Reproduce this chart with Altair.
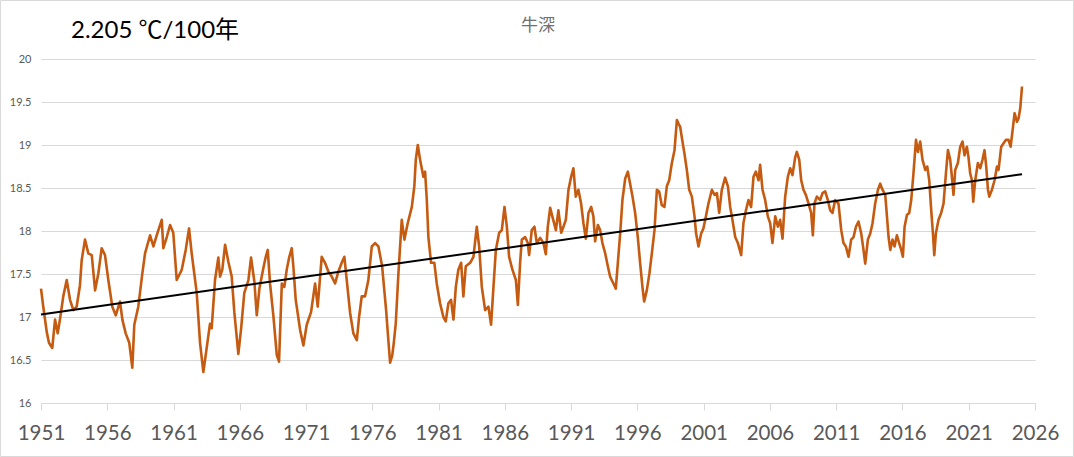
import altair as alt
import pandas as pd

years = [
    1951.00, 1951.17, 1951.43, 1951.60, 1951.85, 1952.06, 1952.26, 1952.43, 1952.68, 1952.94,
    1953.19, 1953.44, 1953.69, 1953.94, 1954.07, 1954.32, 1954.57, 1954.83, 1955.08, 1955.32,
    1955.58, 1955.83, 1956.08, 1956.38, 1956.64, 1956.96, 1957.14, 1957.39, 1957.66, 1957.89,
    1958.04, 1958.34, 1958.65, 1958.85, 1959.23, 1959.48, 1959.73, 1960.11, 1960.23, 1960.49,
    1960.74, 1960.98, 1961.24, 1961.62, 1961.92, 1962.17, 1962.37, 1962.75, 1963.00, 1963.25,
    1963.51, 1963.75, 1963.88, 1964.13, 1964.38, 1964.51, 1964.68, 1964.89, 1965.14, 1965.39,
    1965.59, 1965.89, 1966.09, 1966.34, 1966.65, 1966.85, 1967.10, 1967.28, 1967.48, 1967.78,
    1967.96, 1968.11, 1968.28, 1968.53, 1968.79, 1968.96, 1969.17, 1969.36, 1969.54, 1969.72,
    1969.92, 1970.04, 1970.22, 1970.55, 1970.80, 1971.05, 1971.38, 1971.68, 1971.88, 1972.18,
    1972.43, 1972.68, 1972.94, 1973.19, 1973.44, 1973.69, 1973.89, 1974.07, 1974.32, 1974.57,
    1974.83, 1975.00, 1975.20, 1975.45, 1975.70, 1975.96, 1976.21, 1976.46, 1976.74, 1977.04,
    1977.20, 1977.34, 1977.50, 1977.62, 1977.77, 1977.97, 1978.22, 1978.42, 1978.67, 1978.98,
    1979.17, 1979.28, 1979.43, 1979.60, 1979.85, 1979.98, 1980.11, 1980.23, 1980.43, 1980.68,
    1980.86, 1981.11, 1981.36, 1981.54, 1981.74, 1981.94, 1982.12, 1982.30, 1982.49, 1982.70,
    1982.87, 1983.05, 1983.38, 1983.63, 1983.88, 1984.06, 1984.26, 1984.51, 1984.76, 1984.96,
    1985.14, 1985.32, 1985.57, 1985.77, 1985.97, 1986.15, 1986.32, 1986.57, 1986.83, 1986.98,
    1987.15, 1987.28, 1987.53, 1987.73, 1987.83, 1988.03, 1988.23, 1988.41, 1988.66, 1988.91,
    1989.09, 1989.24, 1989.42, 1989.58, 1989.85, 1990.04, 1990.25, 1990.42, 1990.60, 1990.80,
    1991.00, 1991.17, 1991.35, 1991.55, 1991.75, 1991.93, 1992.11, 1992.31, 1992.51, 1992.68,
    1992.81, 1993.02, 1993.19, 1993.36, 1993.57, 1993.77, 1993.94, 1994.19, 1994.37, 1994.52,
    1994.70, 1994.87, 1995.08, 1995.28, 1995.45, 1995.63, 1995.83, 1996.03, 1996.21, 1996.38,
    1996.51, 1996.71, 1996.91, 1997.09, 1997.29, 1997.47, 1997.64, 1997.84, 1998.04, 1998.22,
    1998.40, 1998.60, 1998.80, 1998.98, 1999.10, 1999.23, 1999.36, 1999.55, 1999.73, 1999.91,
    2000.11, 2000.31, 2000.43, 2000.61, 2000.81, 2000.98, 2001.17, 2001.36, 2001.62, 2001.82,
    2002.00, 2002.17, 2002.37, 2002.62, 2002.83, 2003.00, 2003.17, 2003.38, 2003.58, 2003.83,
    2004.00, 2004.19, 2004.38, 2004.58, 2004.76, 2004.94, 2005.14, 2005.26, 2005.44, 2005.64,
    2005.84, 2006.02, 2006.19, 2006.40, 2006.60, 2006.77, 2006.95, 2007.15, 2007.35, 2007.53,
    2007.70, 2007.91, 2008.03, 2008.21, 2008.36, 2008.53, 2008.71, 2008.91, 2009.11, 2009.24,
    2009.36, 2009.54, 2009.79, 2009.97, 2010.17, 2010.37, 2010.55, 2010.72, 2010.92, 2011.17,
    2011.38, 2011.55, 2011.73, 2011.93, 2012.13, 2012.31, 2012.49, 2012.68, 2012.89, 2013.06,
    2013.19, 2013.39, 2013.57, 2013.74, 2013.94, 2014.15, 2014.32, 2014.49, 2014.70, 2014.83,
    2014.95, 2015.08, 2015.25, 2015.40, 2015.58, 2015.75, 2015.91, 2016.03, 2016.16, 2016.34,
    2016.51, 2016.66, 2016.83, 2017.02, 2017.17, 2017.34, 2017.51, 2017.72, 2017.87, 2018.02,
    2018.17, 2018.30, 2018.40, 2018.52, 2018.72, 2018.92, 2019.10, 2019.28, 2019.43, 2019.60,
    2019.73, 2019.85, 2019.98, 2020.18, 2020.36, 2020.53, 2020.68, 2020.86, 2020.98, 2021.11,
    2021.24, 2021.34, 2021.49, 2021.69, 2021.87, 2022.04, 2022.19, 2022.32, 2022.45, 2022.55,
    2022.75, 2022.95, 2023.13, 2023.25, 2023.45, 2023.63, 2023.81, 2024.00, 2024.16, 2024.31,
    2024.46, 2024.64, 2024.76, 2024.89, 2025.02,
]

temps = [
    17.33, 17.12, 16.83, 16.70, 16.64, 16.97, 16.81, 16.97, 17.24, 17.43,
    17.20, 17.08, 17.12, 17.37, 17.66, 17.90, 17.74, 17.72, 17.31, 17.50,
    17.80, 17.72, 17.43, 17.12, 17.02, 17.18, 16.97, 16.81, 16.70, 16.41,
    16.91, 17.12, 17.51, 17.74, 17.95, 17.82, 17.95, 18.13, 17.80, 17.93,
    18.07, 17.98, 17.43, 17.55, 17.78, 18.03, 17.74, 17.28, 16.70, 16.36,
    16.65, 16.92, 16.87, 17.43, 17.69, 17.47, 17.55, 17.84, 17.64, 17.47,
    17.05, 16.57, 16.85, 17.28, 17.43, 17.69, 17.41, 17.02, 17.33, 17.57,
    17.70, 17.78, 17.39, 17.02, 16.56, 16.48, 17.39, 17.35, 17.55, 17.69,
    17.80, 17.59, 17.20, 16.85, 16.67, 16.91, 17.06, 17.39, 17.12, 17.70,
    17.63, 17.53, 17.47, 17.39, 17.53, 17.63, 17.70, 17.43, 17.05, 16.81,
    16.73, 17.00, 17.24, 17.24, 17.43, 17.82, 17.86, 17.82, 17.59, 17.08,
    16.75, 16.47, 16.55, 16.70, 16.93, 17.51, 18.13, 17.90, 18.09, 18.28,
    18.52, 18.83, 19.00, 18.83, 18.63, 18.69, 18.36, 17.93, 17.63, 17.63,
    17.39, 17.16, 17.00, 16.95, 17.16, 17.20, 16.97, 17.35, 17.55, 17.63,
    17.24, 17.59, 17.63, 17.70, 18.05, 17.82, 17.35, 17.08, 17.12, 16.91,
    17.35, 17.78, 17.98, 18.01, 18.28, 18.05, 17.70, 17.55, 17.43, 17.14,
    17.63, 17.90, 17.93, 17.86, 17.72, 18.01, 18.05, 17.86, 17.92, 17.86,
    17.73, 18.05, 18.27, 18.17, 18.01, 18.24, 17.98, 18.05, 18.13, 18.48,
    18.63, 18.73, 18.40, 18.48, 18.32, 18.09, 17.91, 18.21, 18.28, 18.17,
    17.88, 18.07, 18.01, 17.86, 17.74, 17.59, 17.47, 17.39, 17.33, 17.62,
    17.97, 18.36, 18.61, 18.69, 18.55, 18.40, 18.21, 17.93, 17.62, 17.35,
    17.18, 17.31, 17.51, 17.74, 18.01, 18.48, 18.46, 18.30, 18.28, 18.52,
    18.59, 18.79, 18.94, 19.29, 19.25, 19.21, 19.08, 18.90, 18.71, 18.48,
    18.40, 18.17, 17.97, 17.82, 17.97, 18.03, 18.17, 18.32, 18.48, 18.42,
    18.44, 18.21, 18.48, 18.62, 18.52, 18.28, 18.13, 17.93, 17.86, 17.72,
    18.09, 18.24, 18.36, 18.28, 18.63, 18.69, 18.59, 18.77, 18.48, 18.36,
    18.17, 18.09, 17.86, 18.17, 18.05, 18.13, 17.91, 18.40, 18.63, 18.73,
    18.65, 18.86, 18.92, 18.83, 18.59, 18.48, 18.42, 18.32, 18.21, 17.95,
    18.32, 18.40, 18.36, 18.44, 18.46, 18.36, 18.24, 18.21, 18.36, 18.32,
    18.01, 17.86, 17.82, 17.70, 17.90, 17.93, 18.05, 18.11, 17.97, 17.78,
    17.62, 17.90, 17.97, 18.09, 18.32, 18.48, 18.55, 18.48, 18.42, 18.17,
    17.93, 17.78, 17.90, 17.82, 17.95, 17.86, 17.78, 17.70, 18.05, 18.19,
    18.21, 18.36, 18.67, 19.06, 18.92, 19.04, 18.83, 18.71, 18.75, 18.59,
    18.24, 17.97, 17.72, 17.97, 18.13, 18.21, 18.32, 18.67, 18.94, 18.83,
    18.63, 18.42, 18.71, 18.79, 18.98, 19.04, 18.88, 18.98, 18.86, 18.67,
    18.59, 18.34, 18.59, 18.79, 18.73, 18.83, 18.94, 18.75, 18.48, 18.40,
    18.48, 18.59, 18.75, 18.71, 18.98, 19.02, 19.06, 19.06, 18.98, 19.17,
    19.37, 19.27, 19.31, 19.43, 19.68,
]

trend_years = [1951.0, 2025.02]
trend_values = [17.03, 18.66]

x_ticks = [1951, 1956, 1961, 1966, 1971, 1976, 1981, 1986, 1991, 1996, 2001, 2006, 2011, 2016, 2021, 2026]
y_ticks = [16, 16.5, 17, 17.5, 18, 18.5, 19, 19.5, 20]

title_text = "牛深"
slope_text = "2.205 ℃/100年"

FONT = "Lato, Noto Sans CJK JP, sans-serif"
W, H = 994, 344

df = pd.DataFrame({"year": years, "temp": temps})
trend_df = pd.DataFrame({"year": trend_years, "temp": trend_values})

x_enc = alt.X("year:Q",
              scale=alt.Scale(domain=[1951, 2026], nice=False, zero=False),
              axis=alt.Axis(values=x_ticks, format="d", title=None, grid=False,
                            domain=True, domainColor="#d9d9d9", domainWidth=1,
                            ticks=True, tickColor="#d9d9d9", tickSize=7,
                            labelFontSize=20.5, labelColor="#595959", labelFont=FONT,
                            labelPadding=13, labelFlush=False))
y_enc = alt.Y("temp:Q",
              scale=alt.Scale(domain=[16, 20], nice=False, zero=False),
              axis=alt.Axis(values=y_ticks, labelExpr="'' + datum.value", title=None,
                            grid=True, gridColor="#d9d9d9", gridWidth=1,
                            domain=False, ticks=False,
                            labelFontSize=11, labelColor="#595959", labelFont=FONT,
                            labelPadding=10))

line = alt.Chart(df).mark_line(color="#C55A11", strokeWidth=2.6, strokeJoin="round").encode(
    x=x_enc, y=y_enc)

trend = alt.Chart(trend_df).mark_line(color="#000000", strokeWidth=2).encode(
    x=alt.X("year:Q"), y=alt.Y("temp:Q"))

title_mark = alt.Chart(pd.DataFrame({"t": [title_text]})).mark_text(
    font=FONT, fontSize=17, color="#707070", align="center", baseline="alphabetic"
).encode(x=alt.value(W / 2), y=alt.value(-28), text="t:N")

slope_mark = alt.Chart(pd.DataFrame({"t": [slope_text]})).mark_text(
    font=FONT, fontSize=24, color="#000000", align="left", baseline="alphabetic"
).encode(x=alt.value(30), y=alt.value(-21), text="t:N")

border = alt.Chart(pd.DataFrame({"a": [0]})).mark_rect(
    fill=None, stroke="#d9d9d9", strokeWidth=1
).encode(x=alt.value(-40.5), x2=alt.value(W + 38.5), y=alt.value(-58.5), y2=alt.value(H + 53.5))

chart = alt.layer(border, line, trend, title_mark, slope_mark).properties(
    width=W, height=H,
    autosize=alt.AutoSizeParams(type="none"),
    padding={"left": 41, "top": 59, "right": 39, "bottom": 54},
    background="#ffffff",
).configure_view(stroke=None)

chart.save("out.html", embed_options={"renderer": "svg", "actions": False})
